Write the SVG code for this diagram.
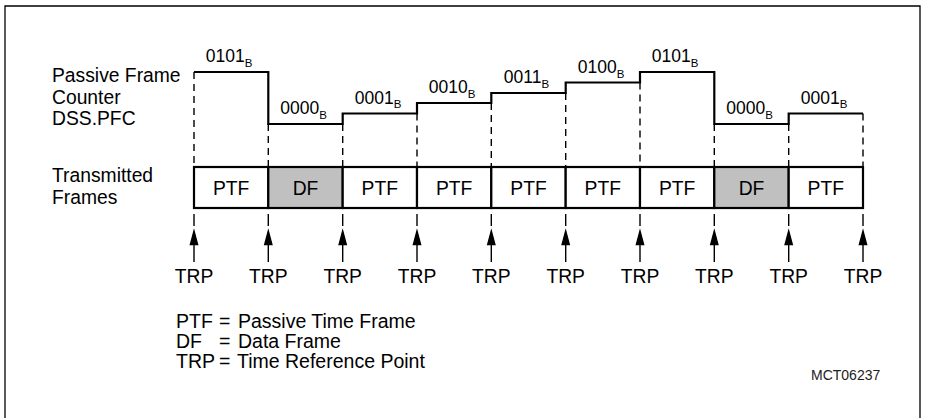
<svg xmlns="http://www.w3.org/2000/svg" width="927" height="418" viewBox="0 0 927 418">
<style>
text{font-family:"Liberation Sans",Arial,sans-serif;fill:#000}
.lbl{font-size:19.3px}
.leg{font-size:19.5px}
.val{font-size:17.5px;text-anchor:middle}
.sub{font-size:11.5px}
.cell{font-size:19.3px;text-anchor:middle}
.trp{font-size:19.3px;text-anchor:middle}
.thick{fill:none;stroke:#000;stroke-width:2.2}
.dash{fill:none;stroke:#000;stroke-width:1.4;stroke-dasharray:7,5}
.thin{fill:none;stroke:#000;stroke-width:1.4}
.ptf{fill:#fff;stroke:#000;stroke-width:2.2}
.df{fill:#c0c0c0;stroke:#000;stroke-width:2.2}
.head{fill:#000}
</style>
<defs>
<path id="arrow" d="M0,231 L-3.6,244.5 L3.6,244.5 Z M0,244 V262" stroke="#000" stroke-width="1.4"/>
</defs>
<rect width="927" height="418" fill="#fff"/>
<path d="M5,418 V6 H920 V418" fill="none" stroke="#000" stroke-width="1.3"/>

<g id="labels">
<text class="lbl" x="52" y="82">Passive Frame</text>
<text class="lbl" x="52" y="103.5">Counter</text>
<text class="lbl" x="52" y="125">DSS.PFC</text>
<text class="lbl" x="52" y="182">Transmitted</text>
<text class="lbl" x="52" y="203.5">Frames</text>
</g>

<g id="connectors">
<path class="dash" d="M194,72V167 M268.3,124V167 M342.7,124V167 M417,113.5V167 M491.3,103V167 M565.7,93V167 M640,82.5V167 M714.3,124V167 M788.7,124V167 M863,113.5V167"/>
<path class="thin" d="M194,214V226 M268.3,214V226 M342.7,214V226 M417,214V226 M491.3,214V226 M565.7,214V226 M640,214V226 M714.3,214V226 M788.7,214V226 M863,214V226"/>
<g class="head">
<use href="#arrow" x="194"/>
<use href="#arrow" x="268.3"/>
<use href="#arrow" x="342.7"/>
<use href="#arrow" x="417"/>
<use href="#arrow" x="491.3"/>
<use href="#arrow" x="565.7"/>
<use href="#arrow" x="640"/>
<use href="#arrow" x="714.3"/>
<use href="#arrow" x="788.7"/>
<use href="#arrow" x="863"/>
</g>
</g>

<g id="counter">
<path class="thick" d="M194,72 H268.3 V124 H342.7 V113.5 H417 V103 H491.3 V93 H565.7 V82.5 H640 V72 H714.3 V124 H788.7 V113.5 H863"/>
<text class="val" x="229" y="62">0101<tspan class="sub" dy="4.5">B</tspan></text>
<text class="val" x="303.5" y="114">0000<tspan class="sub" dy="4.5">B</tspan></text>
<text class="val" x="378" y="103.5">0001<tspan class="sub" dy="4.5">B</tspan></text>
<text class="val" x="452" y="93">0010<tspan class="sub" dy="4.5">B</tspan></text>
<text class="val" x="526.5" y="83">0011<tspan class="sub" dy="4.5">B</tspan></text>
<text class="val" x="601" y="73">0100<tspan class="sub" dy="4.5">B</tspan></text>
<text class="val" x="675" y="62">0101<tspan class="sub" dy="4.5">B</tspan></text>
<text class="val" x="749.5" y="114">0000<tspan class="sub" dy="4.5">B</tspan></text>
<text class="val" x="824" y="103.5">0001<tspan class="sub" dy="4.5">B</tspan></text>
</g>

<g id="frames">
<g id="f1"><rect class="ptf" x="194" y="167" width="74.3" height="41"/><text class="cell" x="231.2" y="195">PTF</text></g>
<g id="f2"><rect class="df" x="268.3" y="167" width="74.4" height="41"/><text class="cell" x="305.5" y="195">DF</text></g>
<g id="f3"><rect class="ptf" x="342.7" y="167" width="74.3" height="41"/><text class="cell" x="379.8" y="195">PTF</text></g>
<g id="f4"><rect class="ptf" x="417" y="167" width="74.3" height="41"/><text class="cell" x="454.2" y="195">PTF</text></g>
<g id="f5"><rect class="ptf" x="491.3" y="167" width="74.4" height="41"/><text class="cell" x="528.5" y="195">PTF</text></g>
<g id="f6"><rect class="ptf" x="565.7" y="167" width="74.3" height="41"/><text class="cell" x="602.8" y="195">PTF</text></g>
<g id="f7"><rect class="ptf" x="640" y="167" width="74.3" height="41"/><text class="cell" x="677.2" y="195">PTF</text></g>
<g id="f8"><rect class="df" x="714.3" y="167" width="74.4" height="41"/><text class="cell" x="751.5" y="195">DF</text></g>
<g id="f9"><rect class="ptf" x="788.7" y="167" width="74.3" height="41"/><text class="cell" x="825.8" y="195">PTF</text></g>
</g>

<g id="trp-labels">
<text class="trp" x="194" y="283">TRP</text>
<text class="trp" x="268.3" y="283">TRP</text>
<text class="trp" x="342.7" y="283">TRP</text>
<text class="trp" x="417" y="283">TRP</text>
<text class="trp" x="491.3" y="283">TRP</text>
<text class="trp" x="565.7" y="283">TRP</text>
<text class="trp" x="640" y="283">TRP</text>
<text class="trp" x="714.3" y="283">TRP</text>
<text class="trp" x="788.7" y="283">TRP</text>
<text class="trp" x="863" y="283">TRP</text>
</g>

<g id="legend">
<text class="leg" x="176" y="328">PTF</text>
<text class="leg" x="219" y="328">=</text>
<text class="leg" x="238" y="328">Passive Time Frame</text>
<text class="leg" x="176" y="348">DF</text>
<text class="leg" x="219" y="348">=</text>
<text class="leg" x="238" y="348">Data Frame</text>
<text class="leg" x="176" y="368">TRP</text>
<text class="leg" x="219" y="368">=</text>
<text class="leg" x="237" y="368">Time Reference Point</text>
</g>

<text x="811" y="380" style="font-size:14px;fill:#222">MCT06237</text>
</svg>
